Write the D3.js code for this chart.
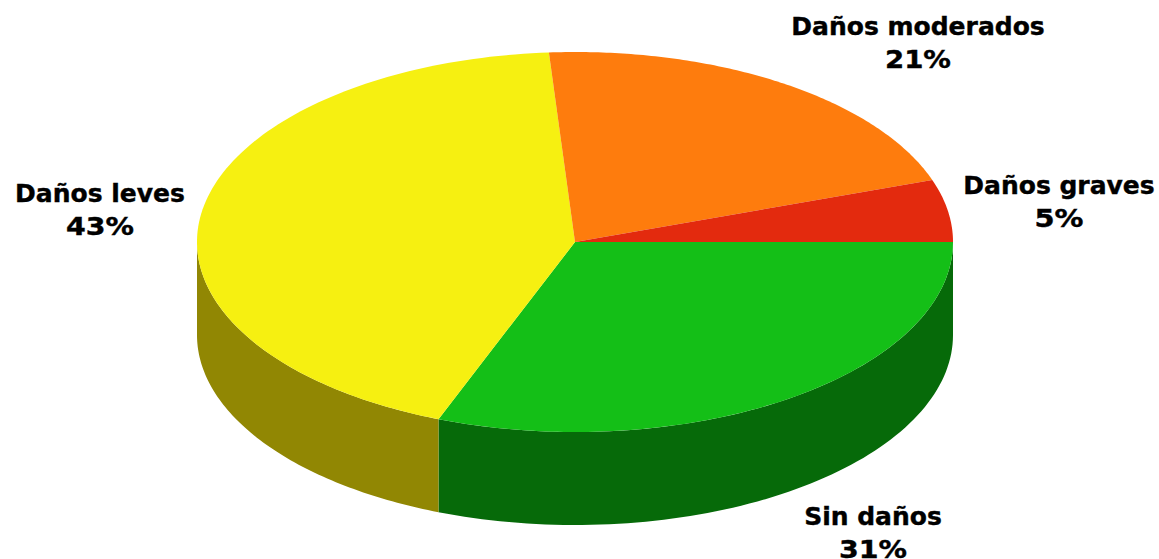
<!DOCTYPE html>
<html><head><meta charset="utf-8"><style>html,body{margin:0;background:#fff}svg{display:block}</style>
<script src="https://cdn.jsdelivr.net/npm/d3@7"></script></head><body><script>
const categories = ["Sin daños","Daños leves","Daños moderados","Daños graves"];
const shares = [30.88,43.02,20.8,5.3];
const percentLabels = ["31%","43%","21%","5%"];
const topColors = ["#14bf17","#f6f011","#fe7c0d","#e32a0e"];
const sideColors = ["#066a09","#918703",null,null];
const W=1159,H=559,cx=575,cy=242,rx=378,ry=190,depth=93;
const svg=d3.select("body").append("svg").attr("width",W).attr("height",H);
const pie=d3.pie().sort(null).value(d=>d).startAngle(Math.PI/2).endAngle(Math.PI/2+2*Math.PI);
const arcs=pie(shares);
const sx=d3.scaleLinear().domain([-1,1]).range([cx-rx,cx+rx]);
const sy=d3.scaleLinear().domain([-1,1]).range([cy-ry,cy+ry]);
const pt=(a,dz=0)=>[sx(Math.sin(a)),sy(-Math.cos(a))+dz];
function sidePath(a0,a1){
  const n=80,p=[];
  const lo=Math.max(a0,Math.PI/2),hi=Math.min(a1,3*Math.PI/2);
  if(hi<=lo) return null;
  for(let i=0;i<=n;i++)p.push(pt(lo+(hi-lo)*i/n));
  for(let i=n;i>=0;i--)p.push(pt(lo+(hi-lo)*i/n,depth));
  return d3.line()(p)+"Z";
}
arcs.forEach((d,i)=>{const s=sidePath(d.startAngle,d.endAngle);
  if(s&&sideColors[i])svg.append("path").attr("d",s).attr("fill",sideColors[i]);});
arcs.forEach((d,i)=>{
  const n=120,p=[[cx,cy]];
  for(let k=0;k<=n;k++)p.push(pt(d.startAngle+(d.endAngle-d.startAngle)*k/n));
  svg.append("path").attr("d",d3.line()(p)+"Z").attr("fill",topColors[i]);
});
const labelPos=[[873,525],[100,202],[918,35],[1059,194]];
const pctWidth=[68,68,66,49];
const style=s=>s.attr("text-anchor","middle")
  .attr("font-family","'DejaVu Sans',Verdana,sans-serif").attr("font-weight","bold").attr("font-size",25)
  .attr("fill","#000").attr("stroke","#000").attr("stroke-width",0.4);
categories.forEach((c,i)=>{
  svg.append("text").call(style).attr("x",labelPos[i][0]).attr("y",labelPos[i][1]).text(c);
  svg.append("text").call(style).attr("x",labelPos[i][0]).attr("y",labelPos[i][1]+33)
    .attr("textLength",pctWidth[i]).attr("lengthAdjust","spacingAndGlyphs").text(percentLabels[i]);
});
</script></body></html>
